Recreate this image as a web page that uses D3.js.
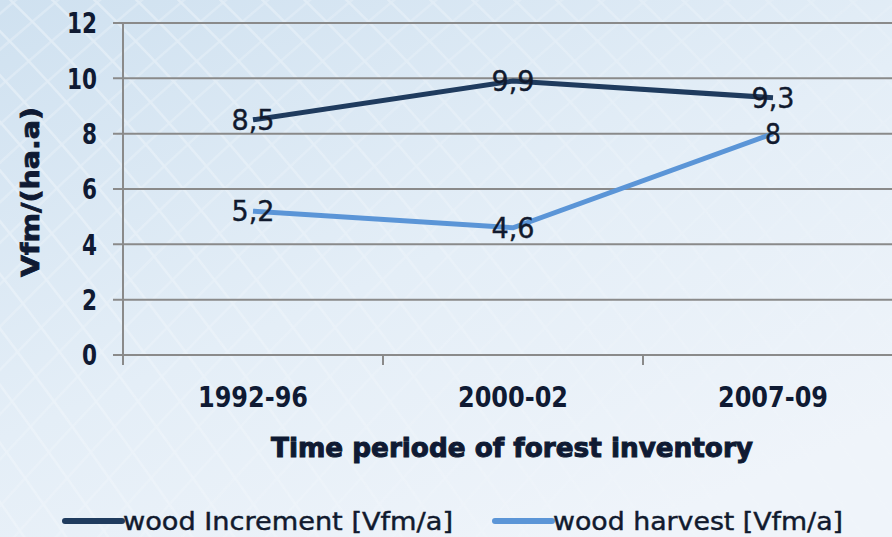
<!DOCTYPE html>
<html>
<head>
<meta charset="utf-8">
<script src="https://cdn.jsdelivr.net/npm/d3@7"></script>
<style>
  body { margin: 0; }
  svg { display: block; }
</style>
</head>
<body>
<div id="root"></div>
<script>
const width = 892;
const height = 537;

// data
const periods = ['1992-96', '2000-02', '2007-09'];
const increment = [8.5, 9.9, 9.3];
const harvest = [5.2, 4.6, 8];
const yTicks = [0, 2, 4, 6, 8, 10, 12];
const seriesNames = ['wood Increment [Vfm/a]', 'wood harvest [Vfm/a]'];
const seriesColors = ['#1f3b5e', '#5b95d7'];

const fmt = v => String(v).replace('.', ',');

const svg = d3.select('#root')
    .append('svg')
    .attr('width', width)
    .attr('height', height);

const defs = svg.append('defs');
const bg = defs.append('linearGradient')
    .attr('id', 'bg')
    .attr('x1', 0).attr('y1', 0)
    .attr('x2', 0.7).attr('y2', 1);
bg.append('stop').attr('offset', '0%').attr('stop-color', '#cfe1f0');
bg.append('stop').attr('offset', '55%').attr('stop-color', '#e4eef7');
bg.append('stop').attr('offset', '100%').attr('stop-color', '#eff4fa');

svg.append('rect')
    .attr('width', width)
    .attr('height', height)
    .attr('fill', 'url(#bg)');

// faint mesh in the background, fading out to the right
const fade = defs.append('linearGradient')
    .attr('id', 'fade')
    .attr('x1', 0).attr('y1', 0)
    .attr('x2', 1).attr('y2', 0.6);
fade.append('stop').attr('offset', '0%').attr('stop-color', '#fff').attr('stop-opacity', 1);
fade.append('stop').attr('offset', '60%').attr('stop-color', '#fff').attr('stop-opacity', 0.5);
fade.append('stop').attr('offset', '100%').attr('stop-color', '#fff').attr('stop-opacity', 0.1);
defs.append('mask').attr('id', 'meshmask')
    .append('rect')
    .attr('width', width)
    .attr('height', height)
    .attr('fill', 'url(#fade)');

const mesh = svg.append('g')
    .attr('mask', 'url(#meshmask)')
    .attr('fill', 'none')
    .attr('stroke', '#ffffff')
    .attr('stroke-width', 2.5)
    .attr('opacity', 0.35);
for (let i = -12; i < 30; i++) {
    const x0 = i * 42;
    mesh.append('path')
        .attr('d', `M${x0},-10 Q${x0 + 200},180 ${x0 + 460},560`);
    mesh.append('path')
        .attr('d', `M${x0 - 300},560 Q${x0 - 20},240 ${x0 + 280},-10`)
        .attr('opacity', 0.7);
}

const x = d3.scaleBand()
    .domain(periods)
    .range([123, 903]);

const y = d3.scaleLinear()
    .domain([0, 12])
    .range([355, 23]);

// gridlines
svg.append('g')
    .selectAll('line')
    .data(yTicks)
    .join('line')
    .attr('x1', 113)
    .attr('x2', width)
    .attr('y1', d => y(d))
    .attr('y2', d => y(d))
    .attr('stroke', '#8a8a8a')
    .attr('stroke-width', 2);

// y axis line
svg.append('line')
    .attr('x1', 123).attr('x2', 123)
    .attr('y1', y(12)).attr('y2', y(0) + 10)
    .attr('stroke', '#8a8a8a')
    .attr('stroke-width', 2);

// category ticks
svg.append('g')
    .selectAll('line')
    .data(periods.slice(1))
    .join('line')
    .attr('x1', d => x(d))
    .attr('x2', d => x(d))
    .attr('y1', y(0))
    .attr('y2', y(0) + 10)
    .attr('stroke', '#8a8a8a')
    .attr('stroke-width', 2);

// y tick labels
svg.append('g')
    .selectAll('text')
    .data(yTicks)
    .join('text')
    .attr('x', 97)
    .attr('y', d => y(d))
    .attr('dy', '0.36em')
    .attr('text-anchor', 'end')
    .attr('font-family', 'DejaVu Sans Condensed, DejaVu Sans')
    .attr('font-weight', 'bold')
    .attr('font-size', 29)
    .attr('fill', '#0f1a33')
    .attr('textLength', d => String(d).length * 15)
    .attr('lengthAdjust', 'spacingAndGlyphs')
    .text(d => d);

// x tick labels
svg.append('g')
    .selectAll('text')
    .data(periods)
    .join('text')
    .attr('x', d => x(d) + x.bandwidth() / 2)
    .attr('y', 397)
    .attr('dy', '0.36em')
    .attr('text-anchor', 'middle')
    .attr('font-family', 'DejaVu Sans Condensed, DejaVu Sans')
    .attr('font-weight', 'bold')
    .attr('font-size', 28)
    .attr('fill', '#0f1a33')
    .attr('textLength', 110)
    .attr('lengthAdjust', 'spacingAndGlyphs')
    .text(d => d);

// axis titles
svg.append('text')
    .attr('x', 512)
    .attr('y', 457)
    .attr('text-anchor', 'middle')
    .attr('font-family', 'DejaVu Sans')
    .attr('font-weight', 'bold')
    .attr('font-size', 26)
    .attr('fill', '#0f1a33')
    .attr('stroke', '#0f1a33')
    .attr('stroke-width', 1)
    .attr('textLength', 482)
    .attr('lengthAdjust', 'spacingAndGlyphs')
    .text('Time periode of forest inventory');

svg.append('text')
    .attr('transform', 'translate(39,192) rotate(-90)')
    .attr('text-anchor', 'middle')
    .attr('font-family', 'DejaVu Sans')
    .attr('font-weight', 'bold')
    .attr('font-size', 25)
    .attr('fill', '#0f1a33')
    .attr('stroke', '#0f1a33')
    .attr('stroke-width', 0.8)
    .attr('textLength', 170)
    .attr('lengthAdjust', 'spacingAndGlyphs')
    .text('Vfm/(ha.a)');

// lines
const cx = d => x(d) + x.bandwidth() / 2;
const line = d3.line()
    .x((d, i) => cx(periods[i]))
    .y(d => y(d));

[increment, harvest].forEach((values, s) => {
    svg.append('path')
        .datum(values)
        .attr('fill', 'none')
        .attr('stroke', seriesColors[s])
        .attr('stroke-width', 5)
        .attr('d', line);
});

// data labels
[increment, harvest].forEach(values => {
    svg.append('g')
        .selectAll('text')
        .data(values)
        .join('text')
        .attr('x', (d, i) => cx(periods[i]))
        .attr('y', d => y(d))
        .attr('dy', '0.36em')
        .attr('text-anchor', 'middle')
        .attr('font-family', 'DejaVu Sans')
        .attr('font-size', 28)
        .attr('fill', '#111a2e')
        .attr('stroke', '#111a2e')
        .attr('stroke-width', 0.4)
        .attr('textLength', d => fmt(d).length > 1 ? 43 : 16)
        .attr('lengthAdjust', 'spacingAndGlyphs')
        .text(d => fmt(d));
});

// legend
const legendX = [65, 495];
const legendW = [330, 290];
const legend = svg.append('g')
    .selectAll('g')
    .data(seriesNames)
    .join('g')
    .attr('transform', (d, i) => `translate(${legendX[i]},521)`);

legend.append('line')
    .attr('x1', 0).attr('x2', 57)
    .attr('stroke', (d, i) => seriesColors[i])
    .attr('stroke-width', 6)
    .attr('stroke-linecap', 'round');

legend.append('text')
    .attr('x', 58)
    .attr('dy', '0.36em')
    .attr('font-family', 'DejaVu Sans Condensed, DejaVu Sans')
    .attr('font-size', 25)
    .attr('fill', '#111a2e')
    .attr('stroke', '#111a2e')
    .attr('stroke-width', 0.4)
    .attr('textLength', (d, i) => legendW[i])
    .attr('lengthAdjust', 'spacingAndGlyphs')
    .text(d => d);
</script>
</body>
</html>
